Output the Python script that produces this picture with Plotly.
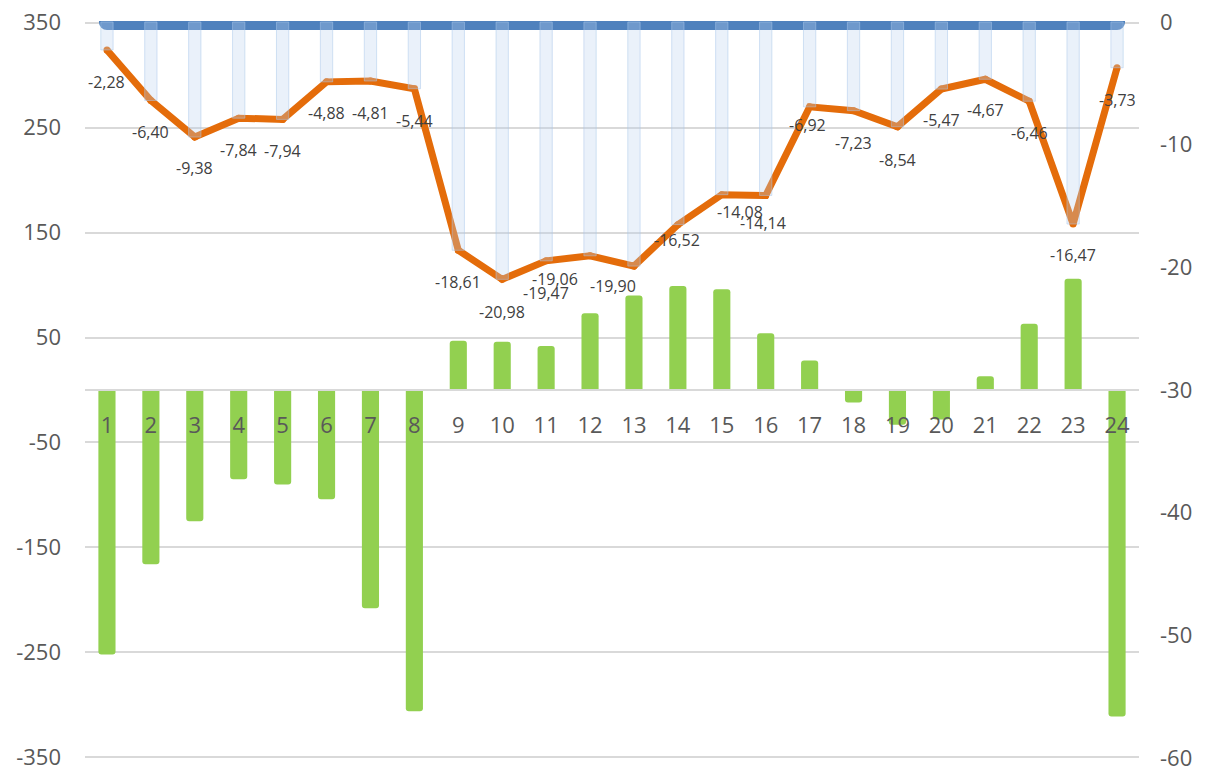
import plotly.graph_objects as go

# ---- data ----
categories = [str(i) for i in range(1, 25)]
green_values = [-252, -166, -125, -85, -90, -104, -208, -306, 47, 46, 42, 73,
                90, 99, 96, 54, 28, -12, -33, -28, 13, 63, 106, -311]
line_values = [-2.28, -6.40, -9.38, -7.84, -7.94, -4.88, -4.81, -5.44,
               -18.61, -20.98, -19.47, -19.06, -19.90, -16.52, -14.08, -14.14,
               -6.92, -7.23, -8.54, -5.47, -4.67, -6.46, -16.47, -3.73]
zero_values = [0, 0, 0, 0, 0, 0, 0, 0, 0, 0, 0, 0,
               0, 0, 0, 0, 0, 0, 0, 0, 0, 0, 0, 0]
left_ticks = [350, 250, 150, 50, -50, -150, -250, -350]
left_tick_text = ["350", "250", "150", "50", "-50", "-150", "-250", "-350"]
right_ticks = [0, -10, -20, -30, -40, -50, -60]
right_tick_text = ["0", "-10", "-20", "-30", "-40", "-50", "-60"]

# label pixel offsets (dx, dy below point)
label_dx = [0, 0, 0, 0, 0, 0, 0, 0, 0, 0, 0, -35, -21, -1, 18, -3, -2, 0, 0, 0, 0, 0, 0, 0]
label_dy = [32, 32, 31, 32, 32, 31, 32, 32, 32, 33, 32, 23, 20, 15, 17, 28, 18, 32, 33, 31, 31, 32, 31, 32]

FONT = "Open Sans"
x = list(range(1, 25))

fig = go.Figure()

fig.add_trace(go.Bar(
    x=x, y=green_values, yaxis="y", width=0.39,
    marker=dict(color="#92d050", cornerradius=3, line=dict(width=0)),
    showlegend=False, hoverinfo="skip",
))

fig.add_trace(go.Scatter(
    x=x, y=zero_values, yaxis="y2", mode="lines+markers",
    line=dict(color="#4f81bd", width=16),
    marker=dict(color="#4f81bd", size=16),
    cliponaxis=True, showlegend=False, hoverinfo="skip",
))

fig.add_trace(go.Scatter(
    x=x, y=line_values, yaxis="y2", mode="lines+markers",
    line=dict(color="#e46c0a", width=7),
    marker=dict(color="#e46c0a", size=7),
    showlegend=False, hoverinfo="skip",
))

fig.add_trace(go.Bar(
    x=x, y=line_values, base=0, yaxis="y3", width=0.28,
    marker=dict(color="rgba(185,208,238,0.30)",
                line=dict(color="rgba(170,200,235,0.5)", width=1)),
    showlegend=False, hoverinfo="skip",
))

for xi, v, dx, dy in zip(x, line_values, label_dx, label_dy):
    fig.add_annotation(
        x=xi, y=v, xref="x", yref="y2", text=f"{v:.2f}".replace(".", ","),
        showarrow=False, xshift=dx, yshift=-dy, xanchor="center", yanchor="middle",
        font=dict(family=FONT, size=16, color="#404040"),
    )

fig.update_layout(
    width=1206, height=769,
    margin=dict(l=85, r=67, t=21, b=10, autoexpand=False),
    paper_bgcolor="white", plot_bgcolor="white",
    barmode="overlay",
    font=dict(family=FONT, color="#595959"),
    xaxis=dict(
        range=[0.5, 24.5], tickvals=x, ticktext=categories,
        anchor="free", position=0.5, automargin=False,
        showgrid=False, zeroline=False,
        showline=True, linecolor="#d9d9d9", linewidth=1.5,
        ticks="", ticklabelstandoff=16,
        tickfont=dict(family=FONT, size=22, color="#595959"),
    ),
    yaxis=dict(
        range=[-351.5, 351.5], tickvals=left_ticks, ticktext=left_tick_text,
        automargin=False, ticklabeloverflow="allow",
        showgrid=True, gridcolor="#d9d9d9", gridwidth=1.5,
        zeroline=False, showline=False, ticks="", ticklabelstandoff=23,
        tickfont=dict(family=FONT, size=22, color="#595959"),
    ),
    yaxis2=dict(
        range=[-60.08, 0.08], tickvals=right_ticks, ticktext=right_tick_text,
        overlaying="y", side="right", automargin=False, ticklabeloverflow="allow",
        showgrid=False, zeroline=False, showline=False, ticks="", ticklabelstandoff=20,
        tickfont=dict(family=FONT, size=22, color="#595959"),
    ),
    yaxis3=dict(
        range=[-60.08, 0.08], overlaying="y", visible=False, automargin=False,
    ),
)

fig.write_html("out.html", config={"displayModeBar": False},
               post_script="document.body.style.margin='0';")
